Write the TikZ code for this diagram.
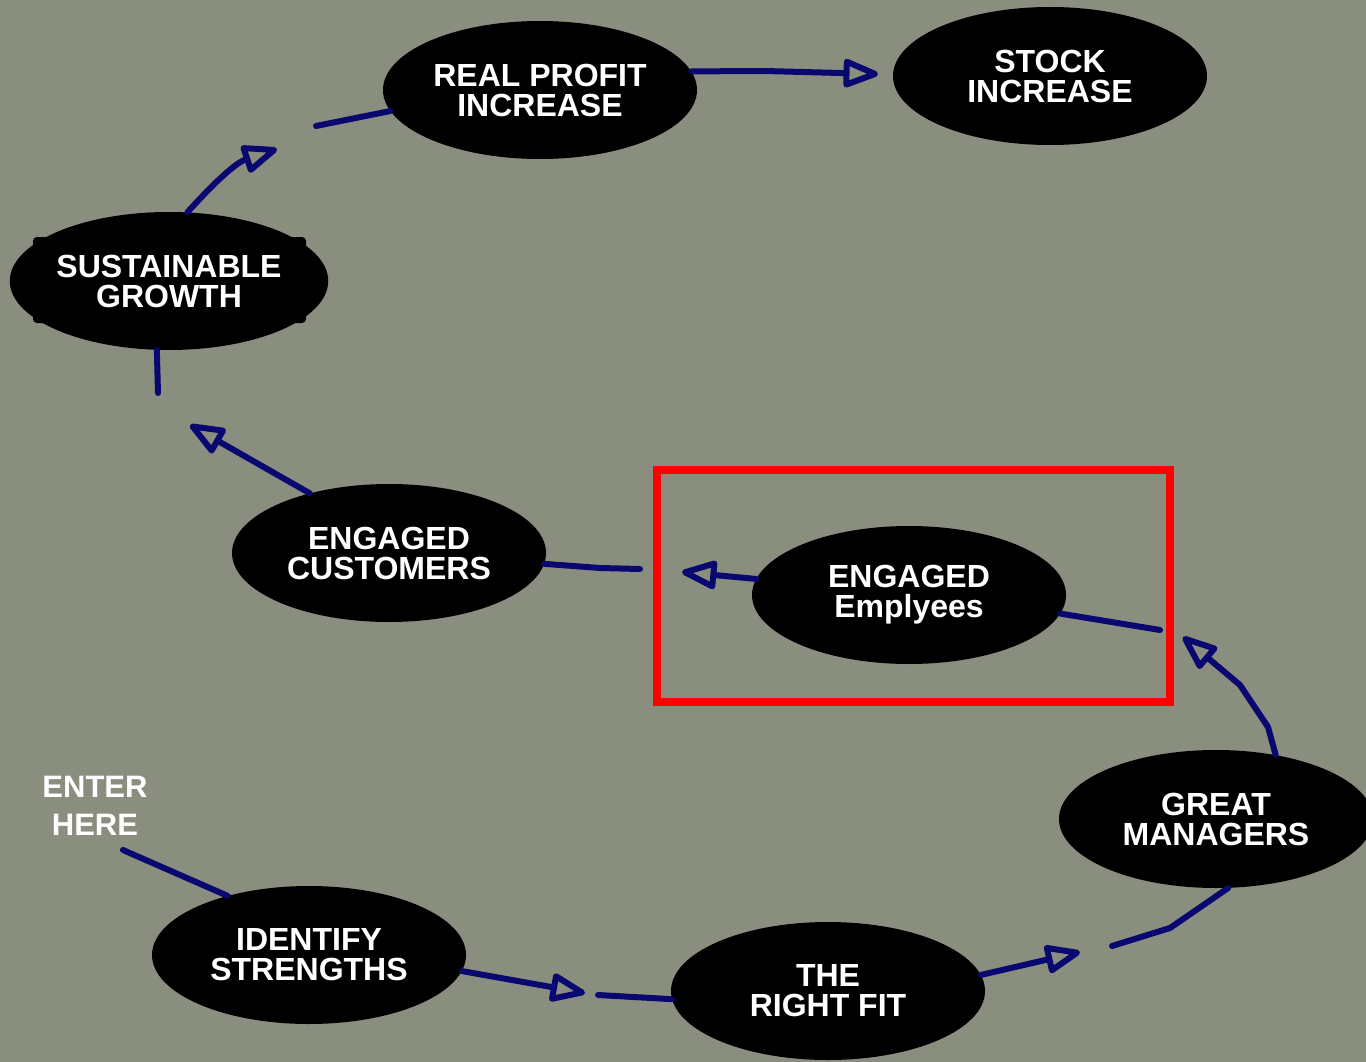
\documentclass[tikz,border=0pt]{standalone}
\usepackage{fontspec}
\setmainfont{Liberation Sans}
\usetikzlibrary{shapes.geometric,arrows.meta}
\definecolor{bgc}{RGB}{137,142,127}
\definecolor{navyc}{RGB}{8,8,112}
\tikzset{
  oval/.style={ellipse, fill=black, minimum width=314pt, minimum height=138pt, inner sep=0pt,
    text=white, align=center, font=\bfseries\fontsize{32}{30}\selectfont},
  link/.style={draw=navyc, line width=6pt, line join=round, line cap=round},
  arr/.style={link, -{Triangle[open, length=40pt, width=30pt, line join=round]}},
  frame/.style={draw=red, line width=8pt},
  note/.style={text=white, align=center, font=\bfseries\fontsize{31}{38}\selectfont}
}
\begin{document}
\begin{tikzpicture}[x=1pt, y=-1pt]
\fill[bgc] (0,0) rectangle (1366,1062);
\useasboundingbox (0,0) rectangle (1366,1062);

% red frame
\draw[frame] (657,470) rectangle (1170,702);

% decorative corner base of sustainable growth
\fill[black, rounded corners=4pt] (33,237) rectangle (306,323);

% nodes
\node[oval] (rp) at (540,90) {REAL PROFIT\\INCREASE};
\node[oval] (si) at (1050,76) {STOCK\\INCREASE};
\node[oval] (sg) at (169,281) {SUSTAINABLE\\GROWTH};
\node[oval] (ec) at (389,553) {ENGAGED\\CUSTOMERS};
\node[oval] (ee) at (909,595) {ENGAGED\\Emplyees};
\node[oval] (gm) at (1216,819) {GREAT\\MANAGERS};
\node[oval] (id) at (309,955) {IDENTIFY\\STRENGTHS};
\node[oval] (rf) at (828,991) {THE\\RIGHT FIT};
\node[note] (en) at (95,806) {ENTER\\HERE};

% free ends and bend points
\coordinate (e1) at (123,850);
\coordinate (a1) at (585,993);
\coordinate (b1) at (598,995);
\coordinate (a2) at (1080,952);
\coordinate (b2) at (1112,946);
\coordinate (b2m) at (1170,928);
\coordinate (c3a) at (1268,727);
\coordinate (c3b) at (1240,685);
\coordinate (a3) at (1183,637);
\coordinate (b3) at (1160,630);
\coordinate (a4) at (682,572);
\coordinate (b4) at (640,569);
\coordinate (b4m) at (600,568);
\coordinate (a5) at (190,425);
\coordinate (b5) at (158,393);
\coordinate (a6) at (277,149);
\coordinate (b6) at (316,126);
\coordinate (c7) at (765,71);
\coordinate (a7) at (878,74);

% connectors
\draw[link] (e1) -- (id.144);
\draw[arr] (id.-6) -- (a1);
\draw[link] (b1) -- (rf.183);
\draw[arr] (rf.6) -- (a2);
\draw[link] (b2) -- (b2m) -- (gm.-80);
\draw[arr] (gm.47) -- (c3a) -- (c3b) -- (a3);
\draw[link] (b3) -- (ee.-7);
\draw[arr] (ee.174) -- (a4);
\draw[link] (b4) -- (b4m) -- (ec.-4);
\draw[arr] (ec.143) -- (a5);
\draw[link] (b5) -- (sg.-100);
\draw[arr] (sg.75) .. controls (212,185) and (235,163) .. (a6);
\draw[link] (b6) -- (rp.188);
\draw[arr] (rp.7) -- (c7) -- (a7);
\end{tikzpicture}
\end{document}
